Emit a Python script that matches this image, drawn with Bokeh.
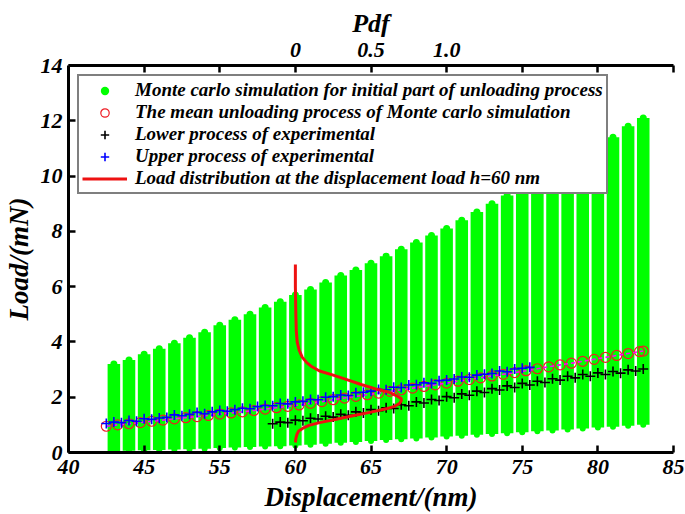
from bokeh.plotting import figure
from bokeh.models import Range1d, LinearAxis, FixedTicker, Legend, LegendItem
from bokeh.embed import file_html
from bokeh.resources import INLINE

# ---- Monte Carlo columns (displacement nm, load mN) ----
mc_x = [48, 49, 50, 51, 52, 53, 54, 55, 56, 57, 58, 59, 60, 61, 62, 63, 64, 65,
        66, 67, 68, 69, 70, 71, 72, 73, 74, 75, 76, 77, 78, 79, 80, 81, 82, 83]
mc_top = [3.2, 3.35, 3.55, 3.75, 3.95, 4.15, 4.35, 4.6, 4.8, 5.0, 5.25, 5.45,
          5.7, 5.9, 6.15, 6.4, 6.6, 6.85, 7.1, 7.35, 7.6, 7.85, 8.1, 8.4, 8.7,
          9.0, 9.3, 9.6, 9.9, 10.2, 10.5, 10.8, 11.1, 11.4, 11.8, 12.1]
mc_bottom = [0.05, 0.06, 0.08, 0.09, 0.11, 0.12, 0.14, 0.16, 0.18, 0.2, 0.22,
             0.23, 0.25, 0.28, 0.32, 0.35, 0.38, 0.42, 0.45, 0.48, 0.51, 0.54,
             0.58, 0.61, 0.64, 0.67, 0.70, 0.73, 0.77, 0.80, 0.83, 0.87, 0.90,
             0.93, 0.97, 1.00]

# ---- mean unloading process of Monte Carlo simulation ----
mean_x = [47.5, 48.25, 49.0, 49.75, 50.5, 51.25, 52.0, 52.75, 53.5, 54.25, 55.0,
          55.75, 56.5, 57.25, 58.0, 58.75, 59.5, 60.25, 61.0, 61.75, 62.5, 63.25,
          64.0, 64.75, 65.5, 66.25, 67.0, 67.75, 68.5, 69.25, 70.0, 70.75, 71.5,
          72.25, 73.0, 73.75, 74.5, 75.25, 76.0, 76.75, 77.5, 78.25, 79.0, 79.75,
          80.5, 81.25, 82.0, 82.75, 83.0]
mean_y = [0.95, 1.00, 1.04, 1.08, 1.13, 1.17, 1.22, 1.26, 1.30, 1.34, 1.39,
          1.43, 1.47, 1.52, 1.57, 1.62, 1.67, 1.72, 1.78, 1.84, 1.91, 1.97,
          2.03, 2.09, 2.15, 2.21, 2.27, 2.33, 2.39, 2.45, 2.51, 2.58, 2.64,
          2.70, 2.77, 2.83, 2.89, 2.96, 3.03, 3.10, 3.17, 3.23, 3.30, 3.37,
          3.44, 3.51, 3.58, 3.65, 3.67]

# ---- upper process of experimental ----
up_x = [47.5, 48.0, 48.5, 49.0, 49.5, 50.0, 50.5, 51.0, 51.5, 52.0, 52.5, 53.0,
        53.5, 54.0, 54.5, 55.0, 55.5, 56.0, 56.5, 57.0, 57.5, 58.0, 58.5, 59.0,
        59.5, 60.0, 60.5, 61.0, 61.5, 62.0, 62.5, 63.0, 63.5, 64.0, 64.5, 65.0,
        65.5, 66.0, 66.5, 67.0, 67.5, 68.0, 68.5, 69.0, 69.5, 70.0, 70.5, 71.0,
        71.5, 72.0, 72.5, 73.0, 73.5, 74.0, 74.5, 75.0, 75.5]
up_y = [1.05, 1.10, 1.08, 1.16, 1.13, 1.22, 1.20, 1.25, 1.27, 1.36, 1.33, 1.38,
        1.45, 1.40, 1.47, 1.52, 1.49, 1.55, 1.60, 1.58, 1.66, 1.70, 1.69, 1.77,
        1.76, 1.83, 1.85, 1.92, 1.91, 2.00, 2.02, 2.08, 2.06, 2.16, 2.18, 2.22,
        2.28, 2.27, 2.36, 2.35, 2.44, 2.45, 2.52, 2.50, 2.60, 2.62, 2.66, 2.73,
        2.72, 2.80, 2.83, 2.86, 2.95, 2.92, 3.02, 3.05, 3.08]

# ---- lower process of experimental ----
low_x = [58.5, 59.0, 59.5, 60.0, 60.5, 61.0, 61.5, 62.0, 62.5, 63.0, 63.5, 64.0,
         64.5, 65.0, 65.5, 66.0, 66.5, 67.0, 67.5, 68.0, 68.5, 69.0, 69.5, 70.0,
         70.5, 71.0, 71.5, 72.0, 72.5, 73.0, 73.5, 74.0, 74.5, 75.0, 75.5, 76.0,
         76.5, 77.0, 77.5, 78.0, 78.5, 79.0, 79.5, 80.0, 80.5, 81.0, 81.5, 82.0,
         82.5, 83.0]
low_y = [1.04, 1.10, 1.08, 1.17, 1.15, 1.24, 1.21, 1.31, 1.28, 1.38, 1.35, 1.47,
         1.43, 1.55, 1.51, 1.62, 1.59, 1.73, 1.69, 1.83, 1.79, 1.92, 1.88, 2.02,
         1.98, 2.12, 2.07, 2.22, 2.17, 2.31, 2.26, 2.41, 2.35, 2.50, 2.44, 2.58,
         2.53, 2.67, 2.62, 2.76, 2.70, 2.82, 2.76, 2.88, 2.82, 2.93, 2.87, 2.99,
         2.95, 3.02]

# ---- load distribution (pdf) at h = 60 nm ----
pdf_load = [6.8, 6.0, 5.0, 4.4, 4.0, 3.7, 3.45, 3.25, 3.1, 2.95, 2.8, 2.62,
            2.45, 2.3, 2.18, 2.05, 1.95, 1.87, 1.78, 1.68, 1.58, 1.46, 1.33,
            1.2, 1.08, 0.98, 0.88, 0.78, 0.65, 0.5, 0.36]
pdf_val = [0.0, 0.0, 0.003, 0.006, 0.012, 0.025, 0.045, 0.075, 0.11, 0.16,
           0.25, 0.35, 0.44, 0.53, 0.62, 0.67, 0.70, 0.70, 0.69, 0.66, 0.60,
           0.50, 0.38, 0.27, 0.16, 0.09, 0.05, 0.022, 0.01, 0.003, 0.0]

# ---- axes ----
x_ticks = [45, 50, 55, 60, 65, 70, 75, 80, 85]
x_tick_labels = {45: "40", 50: "45"}
y_ticks = [0, 2, 4, 6, 8, 10, 12, 14]
pdf_ticks = [-1.0, -0.5, 0.0, 0.5, 1.0, 1.5, 2.0, 2.5]
pdf_tick_labels = {-1.0: "", -0.5: "", 0.0: "0", 0.5: "0.5", 1.0: "1.0",
                   1.5: "", 2.0: "", 2.5: ""}

FONT = "Liberation Serif"

p = figure(width=685, height=514, x_range=Range1d(45, 85), y_range=Range1d(0, 14),
           output_backend="svg", toolbar_location=None,
           min_border_left=65, min_border_right=12, min_border_top=65,
           min_border_bottom=62)
p.extra_x_ranges = {"pdf": Range1d(-1.5, 2.5)}
p.grid.visible = False
p.outline_line_color = None
p.background_fill_color = "white"
p.border_fill_color = "white"

green = "#00ff00"
mc_bars = p.vbar(x=mc_x, width=0.83, bottom=mc_bottom, top=mc_top,
                 fill_color=green, line_color=None)
mc_pts = p.scatter(x=mc_x, y=mc_top, size=7, marker="circle",
                   fill_color=green, line_color=None)
p.scatter(x=mc_x, y=mc_bottom, size=6, marker="circle",
          fill_color=green, line_color=None)

mean_r = p.scatter(x=mean_x, y=mean_y, size=10, marker="circle",
                   fill_color=None, line_color="#ee1c24", line_width=1.2)
p.line(x=mean_x, y=mean_y, line_color="#ff00ff", line_width=1.6, line_dash="4 3")

up_r = p.scatter(x=up_x, y=up_y, size=10, marker="cross",
                 line_color="#0000ff", line_width=1.6)
low_r = p.scatter(x=low_x, y=low_y, size=10, marker="cross",
                  line_color="black", line_width=1.6)

pdf_r = p.line(x=pdf_val, y=pdf_load, x_range_name="pdf",
               line_color="#ee1111", line_width=3)

# axes styling
def style(ax, label_size, label_standoff, tick_standoff):
    ax.axis_line_width = 3
    ax.axis_line_color = "black"
    ax.major_tick_line_width = 2.5
    ax.major_tick_in = 7
    ax.major_tick_out = 0
    ax.minor_tick_line_color = None
    ax.major_label_text_font = FONT
    ax.major_label_text_font_style = "bold italic"
    ax.major_label_text_font_size = "22px"
    ax.major_label_text_color = "black"
    ax.axis_label_text_font = FONT
    ax.axis_label_text_font_style = "bold italic"
    ax.axis_label_text_font_size = label_size
    ax.axis_label_text_color = "black"
    ax.major_label_standoff = tick_standoff
    ax.axis_label_standoff = label_standoff

xa = p.xaxis[0]
style(xa, "27px", 5, 7)
xa.ticker = FixedTicker(ticks=x_ticks)
xa.major_label_overrides = x_tick_labels
xa.axis_label = "Displacement/(nm)"

ya = p.yaxis[0]
style(ya, "27px", 4, 6)
ya.ticker = FixedTicker(ticks=y_ticks)
ya.axis_label = "Load/(mN)"

top = LinearAxis(x_range_name="pdf", axis_label="Pdf",
                 ticker=FixedTicker(ticks=pdf_ticks),
                 major_label_overrides=pdf_tick_labels)
style(top, "26px", 2, 9)
p.add_layout(top, "above")

legend = Legend(items=[
    LegendItem(label="Monte carlo simulation for initial part of unloading process", renderers=[mc_pts]),
    LegendItem(label="The mean unloading process of Monte carlo simulation", renderers=[mean_r]),
    LegendItem(label="Lower process of experimental", renderers=[low_r]),
    LegendItem(label="Upper process of experimental", renderers=[up_r]),
    LegendItem(label="Load distribution at the displacement load h=60 nm", renderers=[pdf_r]),
], location="top_left")
legend.margin = 9
legend.padding = 3
legend.spacing = 0
legend.glyph_width = 45
legend.glyph_height = 21
legend.label_height = 21
legend.label_standoff = 8
legend.label_text_font = FONT
legend.label_text_font_style = "bold italic"
legend.label_text_font_size = "19px"
legend.label_text_color = "black"
legend.border_line_color = "black"
legend.border_line_width = 2
legend.background_fill_color = "white"
legend.background_fill_alpha = 1
p.add_layout(legend)

open("out.html", "w").write(file_html(p, INLINE))
